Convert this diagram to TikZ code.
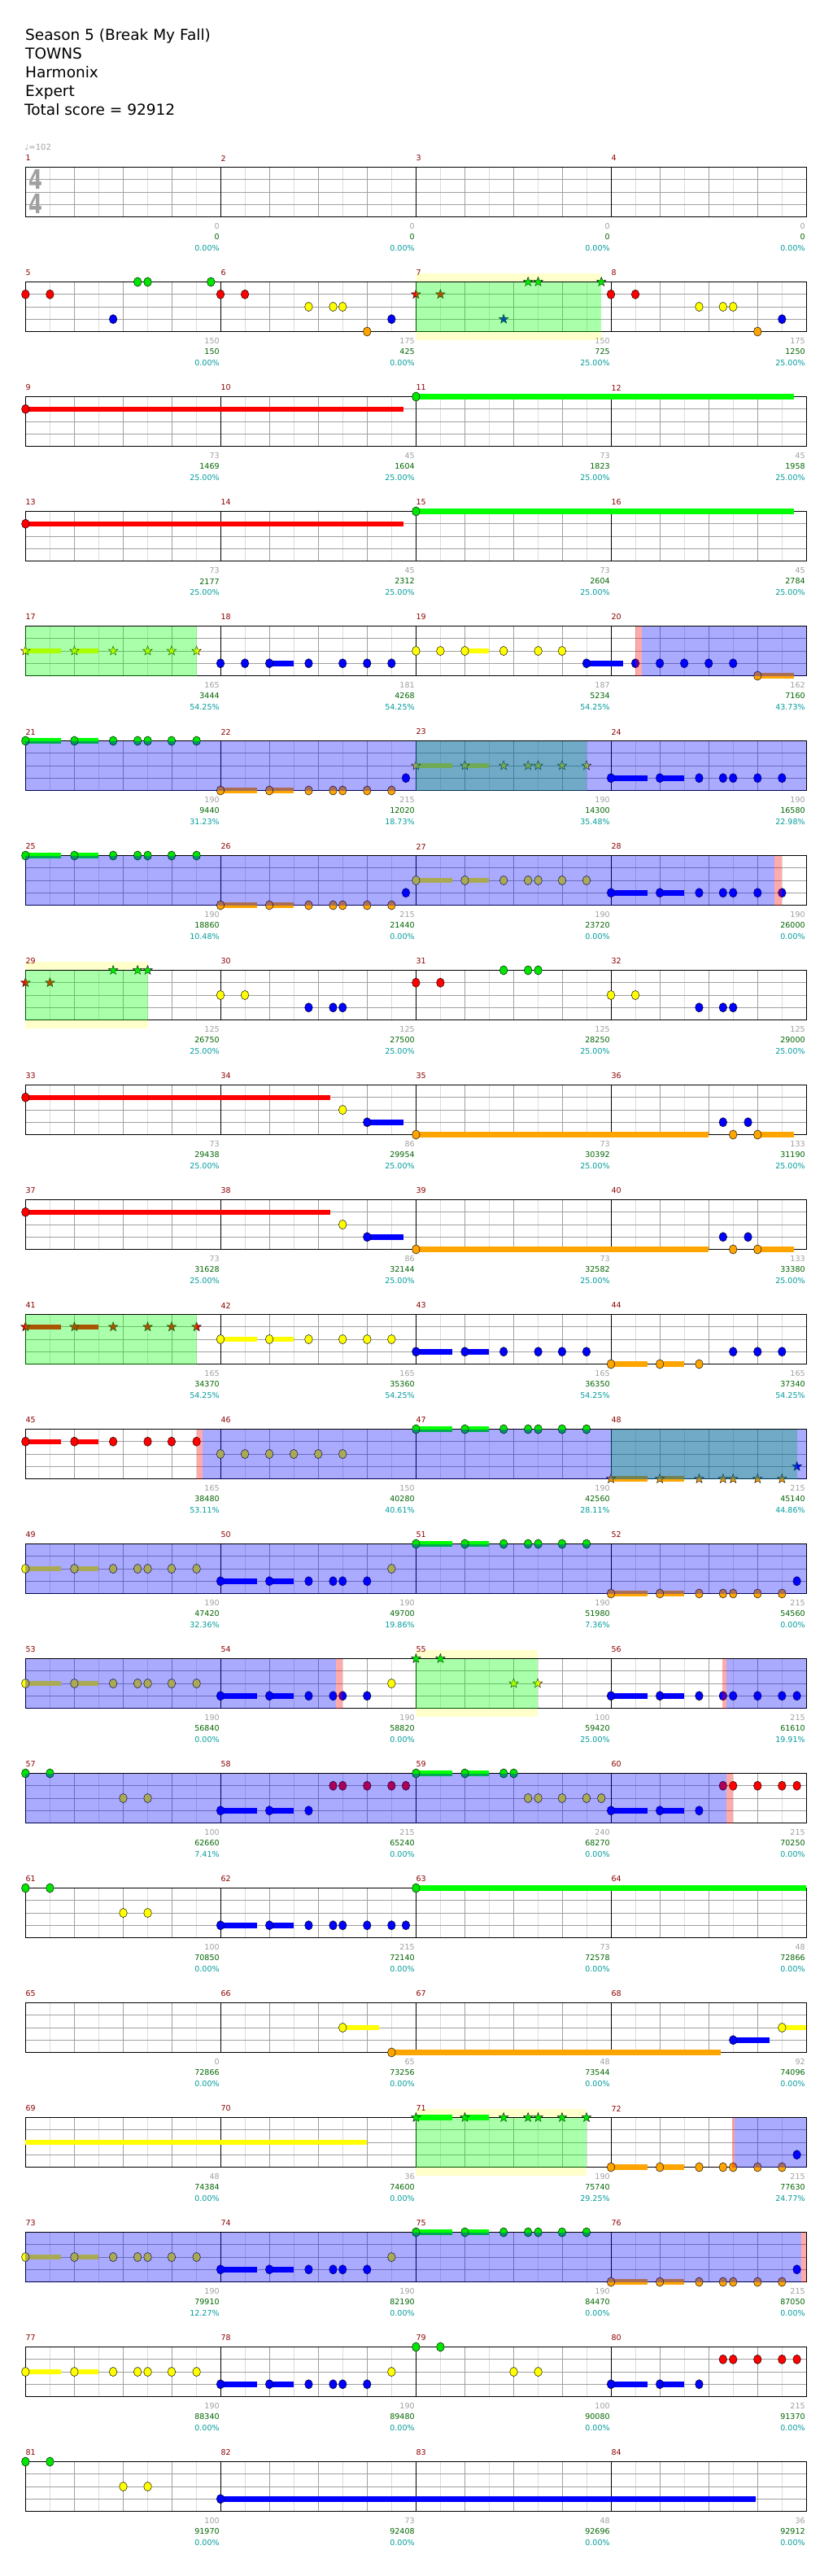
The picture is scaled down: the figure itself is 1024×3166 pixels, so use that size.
\documentclass[tikz,border=0pt]{standalone}
\usepackage{fontspec}
\setmainfont{DejaVu Sans}
\definecolor{sgray}{HTML}{A0A0A0}
\definecolor{lgray}{HTML}{DCDCDC}
\definecolor{sgreen}{HTML}{006400}
\definecolor{scyan}{HTML}{009B9B}
\definecolor{mred}{HTML}{8B0000}
\definecolor{ybg}{HTML}{FFFFCC}
\definecolor{nG}{HTML}{00E600}
\definecolor{nR}{HTML}{FF0000}
\definecolor{nY}{HTML}{FFFF00}
\definecolor{nB}{HTML}{0000FF}
\definecolor{nO}{HTML}{FFA500}
\definecolor{bG}{HTML}{00FF00}
\definecolor{bR}{HTML}{FF0000}
\definecolor{bY}{HTML}{FFFF00}
\definecolor{bB}{HTML}{0000FF}
\definecolor{bO}{HTML}{FFA500}
\tikzset{
  lab/.style={font=\fontsize{9.5}{10}\selectfont, inner sep=0pt},
  mnum/.style={font=\fontsize{9.5}{10}\selectfont, inner sep=0pt, text=mred},
  titletext/.style={font=\fontsize{18.5}{22}\selectfont, inner sep=0pt, anchor=base west, text=black},
}
\def\D{0.653061}
\newcommand\setT[1]{\pgfmathsetmacro\T{205.5+(#1-1)*141}\def\R{#1}}
\newcommand\grid{%
  \fill[white] (31.3,\T) rectangle (991.3,{\T+61});
  \foreach \i in {1,3,...,31} \draw[lgray, line width=0.8pt] ({31.3+\i*30},\T) -- ++(0,61);
  \foreach \i in {2,4,6,10,12,14,18,20,22,26,28,30} \draw[sgray, line width=0.8pt] ({31.3+\i*30},\T) -- ++(0,61);
  \foreach \k in {1,2,3} \draw[sgray, line width=1pt] (31.3,{\T+\k*15.25}) -- (991.3,{\T+\k*15.25});
  \foreach \i in {8,16,24} \draw[black, line width=0.8pt] ({31.3+\i*30},\T) -- ++(0,61);
  \draw[black, line width=1.3pt] (31.3,\T) rectangle (991.3,{\T+61});
}
\newcommand\Ybg[2]{\fill[ybg] ({#1*\D},{\T-10.5}) rectangle ({#2*\D},{\T+71.5});}
\newcommand\Nt[3]{\filldraw[fill=#3, draw=black, line width=0.45pt] ({#1*\D},{\T+15.25*#2}) ellipse [x radius=4.8pt, y radius=5.6pt];}
\newcommand\Ns[3]{\foreach \xx in {#3} {\Nt{\xx}{#1}{#2}}}
\newcommand\Sr[3]{\filldraw[fill=#3, draw=black, line width=0.4pt, shift={({#1*\D},{\T+15.25*#2})}] (90:6pt) -- (126:2.5pt) -- (162:6pt) -- (198:2.5pt) -- (234:6pt) -- (270:2.5pt) -- (306:6pt) -- (342:2.5pt) -- (18:6pt) -- (54:2.5pt) -- cycle;}
\newcommand\Srs[3]{\foreach \xx in {#3} {\Sr{\xx}{#1}{#2}}}
\newcommand\Sus[4]{\draw[#4, line width=6.5pt] ({#1*\D},{\T+15.25*#3}) -- ({#2*\D},{\T+15.25*#3});}
\newcommand\GreenOv[2]{\fill[green, opacity=0.333] ({#1*\D},\T) rectangle ({#2*\D},{\T+61});}
\newcommand\BlueOv[2]{\fill[blue, opacity=0.333] ({#1*\D},\T) rectangle ({#2*\D},{\T+61});}
\newcommand\PinkOv[2]{\fill[red, opacity=0.333] ({#1*\D},\T) rectangle ({#2*\D},{\T+61});}
\newcommand\labels[1]{%
  \foreach \m in {1,2,3,4} {\pgfmathtruncatemacro\num{4*(\R-1)+\m}
    \node[mnum, anchor=west] (mn\num) at ({31.3+(\m-1)*240},{\T-11}) {\num};}
  \foreach \g/\s/\p [count=\m] in {#1} {
    \node[lab, text=sgray, anchor=east] (ga\R-\m) at ({31.3+\m*240-1.5},{\T+73}) {\g};
    \node[lab, text=sgreen, anchor=east] (gb\R-\m) at ({31.3+\m*240-1.5},{\T+86}) {\s};
    \node[lab, text=scyan, anchor=east] (gc\R-\m) at ({31.3+\m*240-1.5},{\T+99.5}) {\p};
  }}
\begin{document}
\begin{tikzpicture}[x=1pt,y=-1pt]
\useasboundingbox (0,0) rectangle (1024,3166);
\fill[white] (0,0) rectangle (1024,3166);
% title
\node[titletext] (t1) at (31,50) {Season 5 (Break My Fall)};
\node[titletext] (t2) at (31,72.9) {TOWNS};
\node[titletext] (t3) at (31,95.8) {Harmonix};
\node[titletext] (t4) at (31,118.7) {Expert};
\node[titletext] (t5) at (30,141.6) {Total score = 92912};
% row 1
\setT{1}
\grid
\node[text=sgray, font=\fontsize{33}{33}\selectfont\bfseries, xscale=0.74, inner sep=0pt] (ts1) at (44.2,220.5) {4};
\node[text=sgray, font=\fontsize{33}{33}\selectfont\bfseries, xscale=0.74, inner sep=0pt] (ts2) at (44.2,250.5) {4};
\node[text=sgray, font=\fontsize{10}{12}\selectfont, inner sep=0pt, anchor=west] (tempo) at (30.5,181) {♩=102};
\labels{0/0/0.00\%,0/0/0.00\%,0/0/0.00\%,0/0/0.00\%}
% row 2
\setT{2}
\Ybg{783}{1132}
\grid
\Ns{1}{nR}{48,94,415,461,1150,1196}
\Ns{0}{nG}{259,278,397}
\Ns{3}{nB}{213,737,1472}
\Ns{2}{nY}{581,627,645,1316,1361,1380}
\Ns{4}{nO}{691,1426}
\Srs{1}{nR}{783,829}
\Srs{0}{nG}{994,1013,1132}
\Srs{3}{nB}{948}
\GreenOv{783}{1132}
\labels{150/150/0.00\%,175/425/0.00\%,150/725/25.00\%,175/1250/25.00\%}
% row 3
\setT{3}
\grid
\Sus{48}{759}{1}{bR}\Nt{48}{1}{nR}
\Sus{783}{1494}{0}{bG}\Nt{783}{0}{nG}
\labels{73/1469/25.00\%,45/1604/25.00\%,73/1823/25.00\%,45/1958/25.00\%}
% row 4
\setT{4}
\grid
\Sus{48}{759}{1}{bR}\Nt{48}{1}{nR}
\Sus{783}{1494}{0}{bG}\Nt{783}{0}{nG}
\labels{73/2177/25.00\%,45/2312/25.00\%,73/2604/25.00\%,45/2784/25.00\%}
% row 5
\setT{5}
\grid
\Sus{48}{115}{2}{bY}\Sus{140}{185}{2}{bY}
\Sus{507}{553}{3}{bB}\Sus{1104}{1173}{3}{bB}
\Sus{875}{920}{2}{bY}\Sus{1426}{1494}{4}{bO}
\Srs{2}{nY}{48,140,213,278,323,370}
\Ns{3}{nB}{415,461,507,581,645,691,737,1104,1196,1242,1288,1334,1380}
\Ns{2}{nY}{783,829,875,948,1013,1058}
\Ns{4}{nO}{1426}
\GreenOv{48}{370}
\PinkOv{1196}{1208}
\BlueOv{1208}{1518}
\labels{165/3444/54.25\%,181/4268/54.25\%,187/5234/54.25\%,162/7160/43.73\%}
% row 6
\setT{6}
\grid
\Sus{48}{115}{0}{bG}\Sus{140}{185}{0}{bG}
\Sus{415}{484}{4}{bO}\Sus{507}{553}{4}{bO}
\Sus{783}{851}{2}{bY}\Sus{875}{920}{2}{bY}
\Sus{1150}{1219}{3}{bB}\Sus{1242}{1288}{3}{bB}
\Ns{0}{nG}{48,140,213,259,278,323,370}
\Ns{4}{nO}{415,507,581,627,645,691,737}
\Ns{3}{nB}{764,1150,1242,1316,1361,1380,1426,1472}
\Srs{2}{nY}{783,875,948,994,1013,1058,1104}
\GreenOv{783}{1104}
\BlueOv{48}{1518}
\labels{190/9440/31.23\%,215/12020/18.73\%,190/14300/35.48\%,190/16580/22.98\%}
% row 7
\setT{7}
\grid
\Sus{48}{115}{0}{bG}\Sus{140}{185}{0}{bG}
\Sus{415}{484}{4}{bO}\Sus{507}{553}{4}{bO}
\Sus{783}{851}{2}{bY}\Sus{875}{920}{2}{bY}
\Sus{1150}{1219}{3}{bB}\Sus{1242}{1288}{3}{bB}
\Ns{0}{nG}{48,140,213,259,278,323,370}
\Ns{4}{nO}{415,507,581,627,645,691,737}
\Ns{3}{nB}{764,1150,1242,1316,1361,1380,1426,1472}
\Ns{2}{nY}{783,875,948,994,1013,1058,1104}
\BlueOv{48}{1458}
\PinkOv{1458}{1472}
\labels{190/18860/10.48\%,215/21440/0.00\%,190/23720/0.00\%,190/26000/0.00\%}
% row 8
\setT{8}
\Ybg{48}{278}
\grid
\Srs{1}{nR}{48,94}
\Srs{0}{nG}{213,259,278}
\Ns{2}{nY}{415,461,1150,1196}
\Ns{3}{nB}{581,627,645,1316,1361,1380}
\Ns{1}{nR}{783,829}
\Ns{0}{nG}{948,994,1013}
\GreenOv{48}{278}
\labels{125/26750/25.00\%,125/27500/25.00\%,125/28250/25.00\%,125/29000/25.00\%}
% row 9
\setT{9}
\grid
\Sus{48}{622}{1}{bR}\Sus{691}{759}{3}{bB}\Sus{783}{1334}{4}{bO}\Sus{1426}{1494}{4}{bO}
\Ns{1}{nR}{48}
\Ns{2}{nY}{645}
\Ns{3}{nB}{691,1361,1408}
\Ns{4}{nO}{783,1380,1426}
\labels{73/29438/25.00\%,86/29954/25.00\%,73/30392/25.00\%,133/31190/25.00\%}
% row 10
\setT{10}
\grid
\Sus{48}{622}{1}{bR}\Sus{691}{759}{3}{bB}\Sus{783}{1334}{4}{bO}\Sus{1426}{1494}{4}{bO}
\Ns{1}{nR}{48}
\Ns{2}{nY}{645}
\Ns{3}{nB}{691,1361,1408}
\Ns{4}{nO}{783,1380,1426}
\labels{73/31628/25.00\%,86/32144/25.00\%,73/32582/25.00\%,133/33380/25.00\%}
% row 11
\setT{11}
\grid
\Sus{48}{115}{1}{bR}\Sus{140}{185}{1}{bR}
\Sus{415}{484}{2}{bY}\Sus{507}{553}{2}{bY}
\Sus{783}{851}{3}{bB}\Sus{875}{920}{3}{bB}
\Sus{1150}{1219}{4}{bO}\Sus{1242}{1288}{4}{bO}
\Srs{1}{nR}{48,140,213,278,323,370}
\Ns{2}{nY}{415,507,581,645,691,737}
\Ns{3}{nB}{783,875,948,1013,1058,1104,1380,1426,1472}
\Ns{4}{nO}{1150,1242,1316}
\GreenOv{48}{370}
\labels{165/34370/54.25\%,165/35360/54.25\%,165/36350/54.25\%,165/37340/54.25\%}
% row 12
\setT{12}
\grid
\Sus{48}{115}{1}{bR}\Sus{140}{185}{1}{bR}
\Sus{783}{851}{0}{bG}\Sus{875}{920}{0}{bG}
\Sus{1150}{1219}{4}{bO}\Sus{1242}{1288}{4}{bO}
\Ns{1}{nR}{48,140,213,278,323,370}
\Ns{2}{nY}{415,461,507,553,599,645}
\Ns{0}{nG}{783,875,948,994,1013,1058,1104}
\Srs{4}{nO}{1150,1242,1316,1361,1380,1426,1472}
\Srs{3}{nB}{1500}
\GreenOv{1150}{1500}
\PinkOv{370}{381}
\BlueOv{381}{1518}
\labels{165/38480/53.11\%,150/40280/40.61\%,190/42560/28.11\%,215/45140/44.86\%}
% row 13
\setT{13}
\grid
\Sus{48}{115}{2}{bY}\Sus{140}{185}{2}{bY}
\Sus{415}{484}{3}{bB}\Sus{507}{553}{3}{bB}
\Sus{783}{851}{0}{bG}\Sus{875}{920}{0}{bG}
\Sus{1150}{1219}{4}{bO}\Sus{1242}{1288}{4}{bO}
\Ns{2}{nY}{48,140,213,259,278,323,370,737}
\Ns{3}{nB}{415,507,581,627,645,691,1500}
\Ns{0}{nG}{783,875,948,994,1013,1058,1104}
\Ns{4}{nO}{1150,1242,1316,1361,1380,1426,1472}
\BlueOv{48}{1518}
\labels{190/47420/32.36\%,190/49700/19.86\%,190/51980/7.36\%,215/54560/0.00\%}
% row 14
\setT{14}
\Ybg{783}{1012}
\grid
\Sus{48}{115}{2}{bY}\Sus{140}{185}{2}{bY}
\Sus{415}{484}{3}{bB}\Sus{507}{553}{3}{bB}
\Sus{1150}{1219}{3}{bB}\Sus{1242}{1288}{3}{bB}
\Ns{2}{nY}{48,140,213,259,278,323,370,737}
\Ns{3}{nB}{415,507,581,627,645,691,1150,1242,1316,1361,1380,1426,1472,1500}
\Srs{0}{nG}{783,829}
\Srs{2}{nY}{967,1012}
\GreenOv{783}{1012}
\BlueOv{48}{632}
\PinkOv{632}{645}
\PinkOv{1360}{1368}
\BlueOv{1368}{1518}
\labels{190/56840/0.00\%,190/58820/0.00\%,100/59420/25.00\%,215/61610/19.91\%}
% row 15
\setT{15}
\grid
\Sus{415}{484}{3}{bB}\Sus{507}{553}{3}{bB}
\Sus{783}{851}{0}{bG}\Sus{875}{920}{0}{bG}
\Sus{1150}{1219}{3}{bB}\Sus{1242}{1288}{3}{bB}
\Ns{0}{nG}{48,94,783,875,948,967}
\Ns{2}{nY}{232,278,994,1013,1058,1104,1132}
\Ns{3}{nB}{415,507,581,1150,1242,1316}
\Ns{1}{nR}{627,645,691,737,764,1361,1380,1426,1472,1500}
\BlueOv{48}{1368}
\PinkOv{1368}{1380}
\labels{100/62660/7.41\%,215/65240/0.00\%,240/68270/0.00\%,215/70250/0.00\%}
% row 16
\setT{16}
\grid
\Sus{783}{1518}{0}{bG}
\Sus{415}{484}{3}{bB}\Sus{507}{553}{3}{bB}
\Ns{0}{nG}{48,94,783}
\Ns{2}{nY}{232,278}
\Ns{3}{nB}{415,507,581,627,645,691,737,764}
\labels{100/70850/0.00\%,215/72140/0.00\%,73/72578/0.00\%,48/72866/0.00\%}
% row 17
\setT{17}
\grid
\Sus{645}{714}{2}{bY}\Sus{1472}{1518}{2}{bY}
\Sus{737}{1357}{4}{bO}\Sus{1380}{1449}{3}{bB}
\Ns{2}{nY}{645,1472}
\Ns{4}{nO}{737}
\Ns{3}{nB}{1380}
\labels{0/72866/0.00\%,65/73256/0.00\%,48/73544/0.00\%,92/74096/0.00\%}
% row 18
\setT{18}
\Ybg{783}{1104}
\grid
\Sus{48}{691}{2}{bY}
\Sus{783}{851}{0}{bG}\Sus{875}{920}{0}{bG}
\Sus{1150}{1219}{4}{bO}\Sus{1242}{1288}{4}{bO}
\Srs{0}{nG}{783,875,948,994,1013,1058,1104}
\Ns{4}{nO}{1150,1242,1316,1361,1380,1426,1472}
\Ns{3}{nB}{1500}
\GreenOv{783}{1104}
\PinkOv{1378}{1382}
\BlueOv{1382}{1518}
\labels{48/74384/0.00\%,36/74600/0.00\%,190/75740/29.25\%,215/77630/24.77\%}
% row 19
\setT{19}
\grid
\Sus{48}{115}{2}{bY}\Sus{140}{185}{2}{bY}
\Sus{415}{484}{3}{bB}\Sus{507}{553}{3}{bB}
\Sus{783}{851}{0}{bG}\Sus{875}{920}{0}{bG}
\Sus{1150}{1219}{4}{bO}\Sus{1242}{1288}{4}{bO}
\Ns{2}{nY}{48,140,213,259,278,323,370,737}
\Ns{3}{nB}{415,507,581,627,645,691,1500}
\Ns{0}{nG}{783,875,948,994,1013,1058,1104}
\Ns{4}{nO}{1150,1242,1316,1361,1380,1426,1472}
\BlueOv{48}{1508}
\PinkOv{1508}{1518}
\labels{190/79910/12.27\%,190/82190/0.00\%,190/84470/0.00\%,215/87050/0.00\%}
% row 20
\setT{20}
\grid
\Sus{48}{115}{2}{bY}\Sus{140}{185}{2}{bY}
\Sus{415}{484}{3}{bB}\Sus{507}{553}{3}{bB}
\Sus{1150}{1219}{3}{bB}\Sus{1242}{1288}{3}{bB}
\Ns{2}{nY}{48,140,213,259,278,323,370,737,967,1013}
\Ns{3}{nB}{415,507,581,627,645,691,1150,1242,1316}
\Ns{0}{nG}{783,829}
\Ns{1}{nR}{1361,1380,1426,1472,1500}
\labels{190/88340/0.00\%,190/89480/0.00\%,100/90080/0.00\%,215/91370/0.00\%}
% row 21
\setT{21}
\grid
\Sus{415}{1423}{3}{bB}
\Ns{0}{nG}{48,94}
\Ns{2}{nY}{232,278}
\Ns{3}{nB}{415}
\labels{100/91970/0.00\%,73/92408/0.00\%,48/92696/0.00\%,36/92912/0.00\%}
\end{tikzpicture}
\end{document}
